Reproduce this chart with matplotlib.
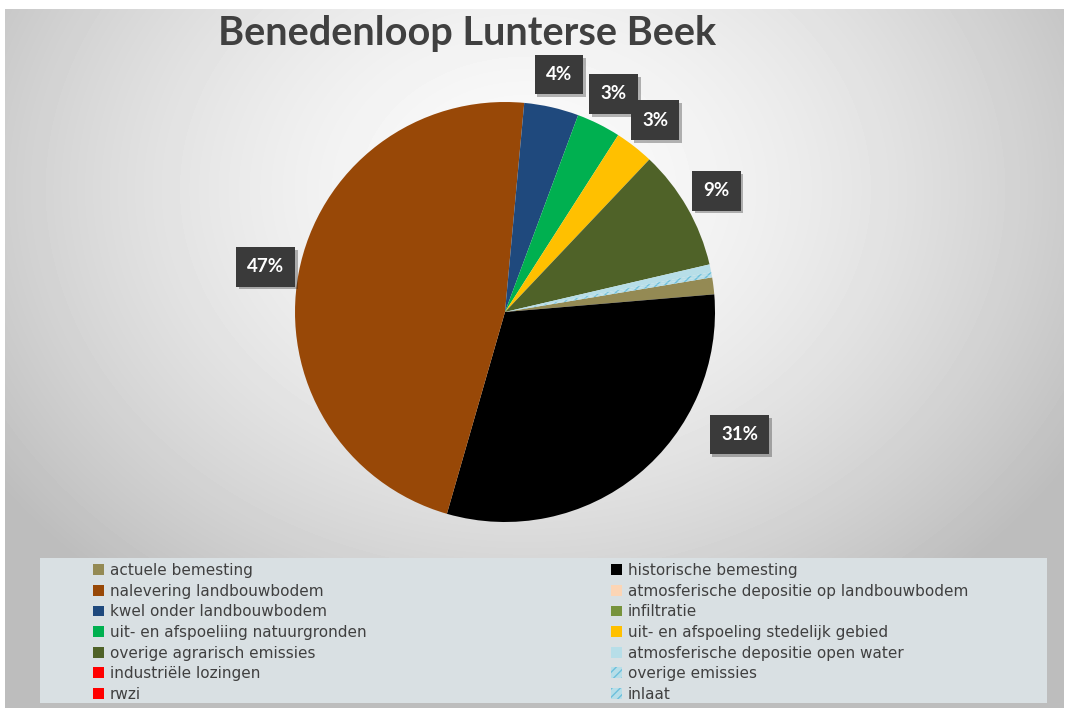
import matplotlib
matplotlib.use('Agg')
import matplotlib.pyplot as plt
import matplotlib.patheffects as pe
from matplotlib.patches import Rectangle, Patch
import numpy as np

title = 'Benedenloop Lunterse Beek'

sources = [
    'actuele bemesting', 'historische bemesting',
    'nalevering landbouwbodem', 'atmosferische depositie op landbouwbodem',
    'kwel onder landbouwbodem', 'infiltratie',
    'uit- en afspoeliing natuurgronden', 'uit- en afspoeling stedelijk gebied',
    'overige agrarisch emissies', 'atmosferische depositie open water',
    'industriële lozingen', 'overige emissies',
    'rwzi', 'inlaat',
]
shares = [1.3, 30.8, 47.0, 0.0, 4.2, 0.0, 3.4, 3.0, 9.3, 0.6, 0.0, 0.2, 0.0, 0.2]
colors = ['#948a54', '#000000', '#984807', '#fcd5b5', '#1f497d', '#77933c',
          '#00b050', '#ffc000', '#4f6228', '#b7dee8', '#ff0000', '#b7dee8',
          '#ff0000', '#b7dee8']
hatches = [None] * 11 + ['////', None, '////']

W, H = 1069, 711
fig = plt.figure(figsize=(W / 100, H / 100), dpi=100, facecolor='white')

# soft radial grey backdrop
bg = fig.add_axes([5 / W, 3 / H, 1059 / W, 699 / H])
yy, xx = np.mgrid[0:699, 0:1059]
d = np.sqrt(((xx - 520) / 700.0) ** 2 + ((yy - 180) / 560.0) ** 2)
shade = np.clip(0.985 - 0.28 * d ** 1.6, 0.74, 1.0)
bg.imshow(shade, cmap='gray', vmin=0, vmax=1, aspect='auto', interpolation='bilinear')
bg.set_axis_off()

# legend panel
fig.add_artist(Rectangle((40 / W, 8 / H), 1007 / W, 145 / H, transform=fig.transFigure,
                         facecolor='#d9e0e3', edgecolor='none', zorder=1))

fig.text(467 / W, 1 - 33 / H, title, ha='center', va='center', fontsize=28.5,
         fontweight='bold', color='#404040', family=['Lato', 'DejaVu Sans'])

cx, cy, r = 505, 312, 210
ax = fig.add_axes([(cx - r) / W, (H - cy - r) / H, 2 * r / W, 2 * r / H])
wedges, _ = ax.pie(shares, colors=colors, startangle=9.5, counterclock=False,
                   wedgeprops=dict(linewidth=0))
for w, h in zip(wedges, hatches):
    if h:
        w.set_hatch(h)
        w.set_edgecolor('#6cc0dc')
        w.set_linewidth(0)
ax.set_xlim(-1, 1)
ax.set_ylim(-1, 1)
ax.set_axis_off()

# percentage callouts for the larger slices
label_shift = {'historische bemesting': (23, 1.26)}
for w, name, v in zip(wedges, sources, shares):
    if v < 2:
        continue
    mid = (w.theta1 + w.theta2) / 2
    dang, rad = label_shift.get(name, (0, 1.16))
    a = np.deg2rad(mid + dang)
    t = ax.text(rad * np.cos(a), rad * np.sin(a), f'{round(v)}%', ha='center', va='center',
                fontsize=13.5, fontweight='bold', color='white', clip_on=False,
                family=['Lato', 'DejaVu Sans'],
                bbox=dict(boxstyle='square,pad=0.6', facecolor='#3a3a3a', edgecolor='none'))
    t.get_bbox_patch().set_path_effects([pe.withSimplePatchShadow(offset=(2, -2), alpha=0.3),
                                         pe.Normal()])

handles = []
for name, c, h in zip(sources, colors, hatches):
    handles.append(Patch(facecolor=c, edgecolor='#6cc0dc' if h else 'none',
                         hatch=h, linewidth=0, label=name))

legend_kw = dict(loc='upper left', frameon=False, labelcolor='#404040', handlelength=0.72,
                 handleheight=0.72, handletextpad=0.38, labelspacing=0.37, borderpad=0,
                 borderaxespad=0, prop={'family': 'DejaVu Sans', 'size': 11})
leg1 = fig.legend(handles[0::2], sources[0::2], bbox_to_anchor=(93 / W, 1 - 563 / H), **legend_kw)
leg2 = fig.legend(handles[1::2], sources[1::2], bbox_to_anchor=(611 / W, 1 - 563 / H), **legend_kw)
for leg in (leg1, leg2):
    leg.set_zorder(3)

fig.savefig('out.png', dpi=100)
